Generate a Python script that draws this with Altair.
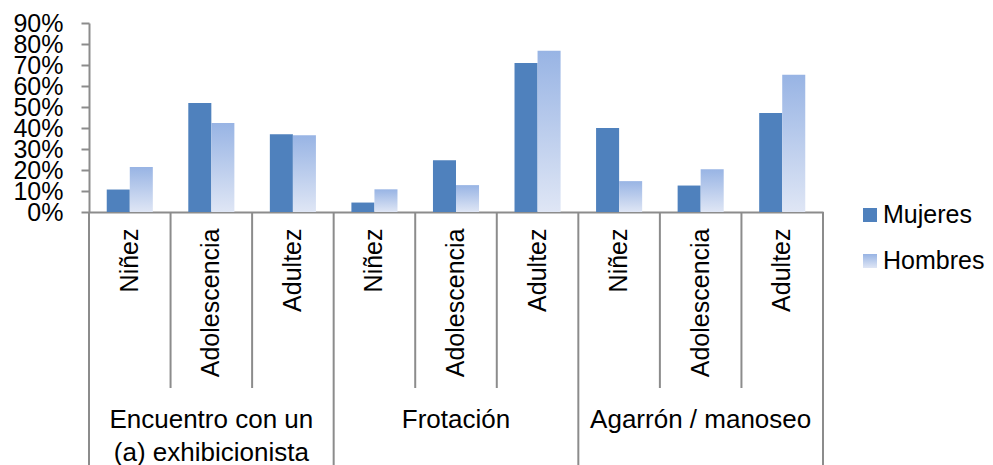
import altair as alt
import pandas as pd

# ---- data ----
grupos = ["Encuentro con un\n(a) exhibicionista", "Frotación", "Agarrón / manoseo"]
etapas = ["Niñez", "Adolescencia", "Adultez"]
mujeres = [0.107, 0.519, 0.370, 0.045, 0.246, 0.710, 0.400, 0.126, 0.472]
hombres = [0.214, 0.424, 0.366, 0.108, 0.128, 0.768, 0.147, 0.204, 0.653]
series = ["Mujeres", "Hombres"]
y_ticks = [0, 0.1, 0.2, 0.3, 0.4, 0.5, 0.6, 0.7, 0.8, 0.9]

FONT = "Liberation Sans"
GRAY = "#8C8C8C"
C_MUJ = "#4F81BD"
H_TOP = "#98B4E4"
H_BOT = "#DFE6F5"

keys = [f"{gi}|{e}" for gi in range(len(grupos)) for e in etapas]

rows = []
for i, k in enumerate(keys):
    rows.append({"key": k, "serie": "Mujeres", "valor": mujeres[i]})
    rows.append({"key": k, "serie": "Hombres", "valor": hombres[i]})
df = pd.DataFrame(rows)

W, H = 734, 189

xscale = alt.Scale(domain=keys, paddingInner=0, paddingOuter=0)
xoff = alt.XOffset("serie:N", scale=alt.Scale(domain=series, paddingInner=0, paddingOuter=0.77))
yscale = alt.Scale(domain=[0, 0.9], nice=False)

x_axis = alt.Axis(
    title=None, labelAngle=270, labelAlign="right", labelBaseline="middle",
    labelPadding=16, ticks=False, domainColor=GRAY, domainWidth=2,
    labelFontSize=25, labelFont=FONT, labelColor="black", labelOverlap=False,
    labelLimit=400, labelExpr="split(datum.label, '|')[1]",
)
y_axis = alt.Axis(
    title=None, values=y_ticks, format=".0%", labelFontSize=25, labelFont=FONT,
    labelColor="black", tickSize=8, tickColor=GRAY, tickWidth=2, domainColor=GRAY,
    domainWidth=2, grid=False, labelPadding=18, labelOverlap=False, labelFlush=False,
)

gradient = alt.LinearGradient(
    gradient="linear", x1=0, y1=0, x2=0, y2=1,
    stops=[alt.GradientStop(color=H_TOP, offset=0), alt.GradientStop(color=H_BOT, offset=1)],
)

base = alt.Chart(df)

bars_m = base.transform_filter("datum.serie === 'Mujeres'").mark_bar(color=C_MUJ).encode(
    x=alt.X("key:N", scale=xscale, axis=x_axis, sort=keys),
    xOffset=xoff,
    y=alt.Y("valor:Q", scale=yscale, axis=y_axis),
)

bars_h = base.transform_filter("datum.serie === 'Hombres'").mark_bar(color=gradient).encode(
    x=alt.X("key:N", scale=xscale, sort=keys, axis=x_axis),
    xOffset=xoff,
    y=alt.Y("valor:Q", scale=yscale, axis=y_axis),
)

short_df = pd.DataFrame({"key": [keys[i] for i in (1, 2, 4, 5, 7, 8)]})
long_df = pd.DataFrame({"key": [keys[i] for i in (0, 3, 6)]})
end_df = pd.DataFrame({"key": [keys[-1]]})

rules_short = alt.Chart(short_df).mark_rule(color=GRAY, strokeWidth=2).encode(
    x=alt.X("key:N", scale=xscale, bandPosition=0, axis=x_axis),
    y=alt.value(H), y2=alt.value(H + 176),
)
rules_long = alt.Chart(long_df).mark_rule(color=GRAY, strokeWidth=2).encode(
    x=alt.X("key:N", scale=xscale, bandPosition=0, axis=x_axis),
    y=alt.value(H), y2=alt.value(H + 260),
)
rule_end = alt.Chart(end_df).mark_rule(color=GRAY, strokeWidth=2).encode(
    x=alt.X("key:N", scale=xscale, bandPosition=1, axis=x_axis),
    y=alt.value(H), y2=alt.value(H + 260),
)

grp_df = pd.DataFrame({"key": [keys[3 * i + 1] for i in range(3)], "label": grupos})
grp_text = alt.Chart(grp_df).transform_calculate(
    lines="split(datum.label, '\\n')"
).mark_text(
    font=FONT, fontSize=26, color="black", baseline="middle", align="center", lineHeight=33,
).encode(
    x=alt.X("key:N", scale=xscale, axis=x_axis),
    y=alt.value(397),
    text="lines:N",
)

# ---- legend (drawn manually so the Hombres swatch can carry the gradient) ----
leg_m_df = pd.DataFrame({"serie": [series[0]]})
leg_h_df = pd.DataFrame({"serie": [series[1]]})
LX, LY0, LDY = 781, 192, 46

leg_sq_m = alt.Chart(leg_m_df).mark_square(size=196, color=C_MUJ, opacity=1).encode(
    x=alt.value(LX), y=alt.value(LY0))
leg_sq_h = alt.Chart(leg_h_df).mark_square(size=196, color=gradient, opacity=1).encode(
    x=alt.value(LX), y=alt.value(LY0 + LDY))
leg_tx_m = alt.Chart(leg_m_df).mark_text(font=FONT, fontSize=25, align="left", baseline="middle", color="black").encode(
    x=alt.value(LX + 13), y=alt.value(LY0), text="serie:N")
leg_tx_h = alt.Chart(leg_h_df).mark_text(font=FONT, fontSize=25, align="left", baseline="middle", color="black").encode(
    x=alt.value(LX + 13), y=alt.value(LY0 + LDY), text="serie:N")

chart = alt.layer(
    bars_m, bars_h, rules_short, rules_long, rule_end, grp_text,
    leg_sq_m, leg_sq_h, leg_tx_m, leg_tx_h,
).properties(
    width=W, height=H,
    padding={"left": 4, "top": 3, "right": 0, "bottom": 0},
).configure_view(stroke=None)

chart.save("out.html", embed_options={"renderer": "svg", "actions": False})
